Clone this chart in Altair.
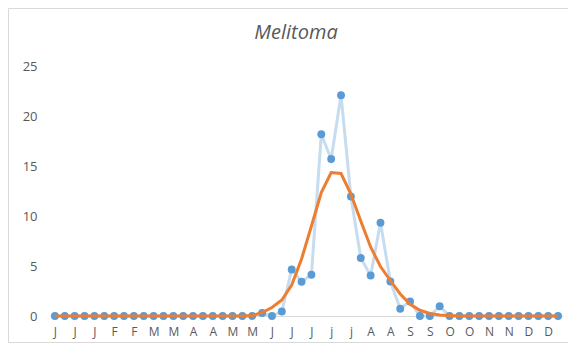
import json
import altair as alt
import pandas as pd

# 52 weekly categories; only every other label is shown on the axis
tick_labels = ["J", "J", "J", "F", "F", "M", "M", "A", "A", "M", "M", "J", "J",
               "J", "j", "j", "A", "A", "S", "S", "O", "O", "N", "N", "D", "D"]

weeks = list(range(52))

counts = [0, 0, 0, 0, 0, 0, 0, 0, 0, 0,
          0, 0, 0, 0, 0, 0, 0, 0, 0, 0,
          0, 0.3, 0, 0.45, 4.65, 3.43, 4.12, 18.17, 15.7, 22.08,
          11.95, 5.8, 4.05, 9.33, 3.45, 0.73, 1.46, 0, 0, 0.97,
          0, 0, 0, 0, 0, 0, 0, 0, 0, 0,
          0, 0]

trend = [0, 0, 0, 0, 0, 0, 0, 0, 0, 0,
         0, 0, 0, 0, 0, 0, 0, 0, 0, 0,
         0.05, 0.35, 0.85, 1.6, 3.1, 5.7, 9.0, 12.35, 14.35, 14.25,
         12.2, 9.5, 6.9, 4.95, 3.55, 2.2, 1.17, 0.57, 0.25, 0.1,
         0.05, 0, 0, 0, 0, 0, 0, 0, 0, 0,
         0, 0]

title_text = "Melitoma"

df = pd.DataFrame({"week": weeks, "count": counts, "trend": trend})

FONT = "Open Sans"
GREY = "#595959"

label_expr = json.dumps(tick_labels) + "[datum.value / 2]"

x = alt.X("week:O",
          scale=alt.Scale(type="point", padding=0.5),
          axis=alt.Axis(values=list(range(0, 52, 2)), labelExpr=label_expr,
                        title=None, labelAngle=0, ticks=False,
                        domainColor="#D9D9D9", domainWidth=1,
                        labelColor=GREY, labelFont=FONT, labelFontSize=12,
                        labelPadding=10, grid=False))

y_scale = alt.Scale(domain=[0, 25], nice=False)

y = alt.Y("count:Q", scale=y_scale,
          axis=alt.Axis(values=[0, 5, 10, 15, 20, 25], title=None,
                        domain=False, ticks=False, grid=False,
                        labelColor=GREY, labelFont=FONT, labelFontSize=13,
                        labelPadding=13))

base = alt.Chart(df)

border = alt.Chart(alt.Data(values=[{}])).mark_rect(
    fillOpacity=0, stroke="#D9D9D9", strokeWidth=1
).encode(x=alt.value(-41.5), x2=alt.value(700), y=alt.value(-57.5), y2=alt.value(276.5))

title = alt.Chart(alt.Data(values=[{"t": title_text}])).mark_text(
    font=FONT, fontSize=20, fontStyle="italic", color=GREY,
    align="center", baseline="middle"
).encode(text="t:N", x=alt.value(246), y=alt.value(-33))

line = base.mark_line(color="#C6DCF0", strokeWidth=3).encode(x=x, y=y)
pts = base.mark_circle(color="#5B9BD5", opacity=1, size=62).encode(x=x, y=y)
tr = base.mark_line(color="#ED7D31", strokeWidth=3).encode(
    x=x, y=alt.Y("trend:Q", scale=y_scale))

chart = alt.layer(border, title, line, pts, tr).properties(
    width=513, height=250,
    padding={"left": 42, "top": 58, "right": 5, "bottom": 27},
    autosize=alt.AutoSizeParams(type="none"),
).configure_view(stroke=None)

chart.save("out.html", embed_options={"renderer": "svg", "actions": False})
